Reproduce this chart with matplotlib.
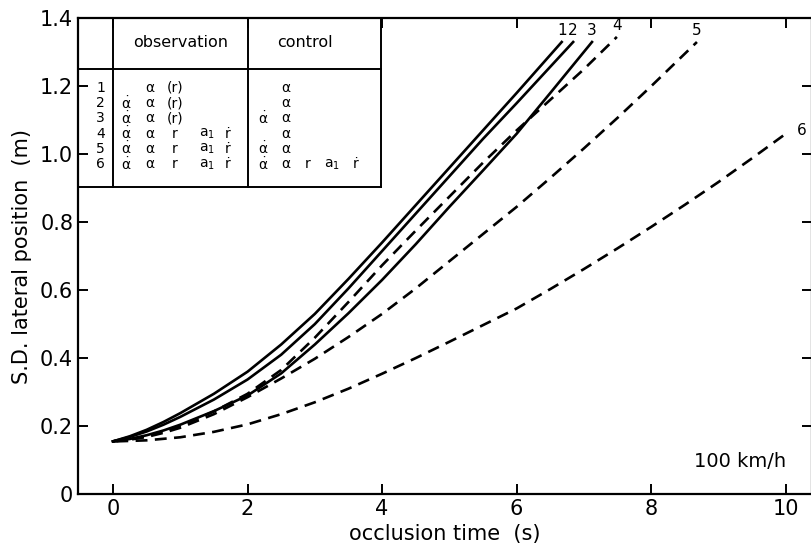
import numpy as np
import matplotlib
matplotlib.use('Agg')
import matplotlib.pyplot as plt

plt.rcParams['font.family'] = ['DejaVu Sans']
plt.rcParams['mathtext.fontset'] = 'dejavusans'

# curves: occlusion time (s) -> S.D. lateral position (m)
t1 = [0, 0.25, 0.5, 0.75, 1, 1.5, 2, 2.5, 3, 3.5, 4, 4.5, 5, 5.5, 6, 6.67]
sd1 = [0.155, 0.17, 0.189, 0.212, 0.238, 0.295, 0.36, 0.44, 0.53, 0.633, 0.74, 0.85, 0.96, 1.07, 1.18, 1.33]

t2 = [0, 0.25, 0.5, 0.75, 1, 1.5, 2, 2.5, 3, 3.5, 4, 4.5, 5, 5.5, 6, 6.84]
sd2 = [0.155, 0.168, 0.184, 0.204, 0.227, 0.278, 0.337, 0.41, 0.50, 0.605, 0.715, 0.825, 0.935, 1.045, 1.15, 1.33]

t3 = [0, 0.25, 0.5, 0.75, 1, 1.5, 2, 2.5, 3, 3.5, 4, 4.5, 5, 5.5, 6, 6.5, 7.12]
sd3 = [0.155, 0.162, 0.173, 0.187, 0.204, 0.244, 0.29, 0.355, 0.44, 0.532, 0.63, 0.735, 0.845, 0.952, 1.06, 1.18, 1.33]

t4 = [0, 0.25, 0.5, 0.75, 1, 1.5, 2, 2.5, 3, 3.5, 4, 4.5, 5, 5.5, 6, 6.5, 7, 7.49]
sd4 = [0.155, 0.161, 0.17, 0.183, 0.2, 0.243, 0.295, 0.365, 0.46, 0.565, 0.673, 0.775, 0.875, 0.975, 1.07, 1.16, 1.25, 1.345]

t5 = [0, 0.25, 0.5, 0.75, 1, 1.5, 2, 2.5, 3, 3.5, 4, 4.5, 5, 5.5, 6, 6.5, 7, 7.5, 8, 8.68]
sd5 = [0.155, 0.16, 0.168, 0.18, 0.195, 0.235, 0.285, 0.34, 0.398, 0.462, 0.53, 0.605, 0.685, 0.765, 0.845, 0.93, 1.017, 1.107, 1.2, 1.33]

t6 = [0.05, 0.5, 1, 1.5, 2, 2.5, 3, 3.5, 4, 4.5, 5, 5.5, 6, 6.5, 7, 7.5, 8, 8.5, 9, 9.5, 10.0]
sd6 = [0.155, 0.158, 0.167, 0.183, 0.205, 0.235, 0.27, 0.31, 0.354, 0.4, 0.448, 0.497, 0.546, 0.603, 0.662, 0.723, 0.786, 0.851, 0.918, 0.988, 1.06]

curve_names = ['1', '2', '3', '4', '5', '6']

# legend table contents
adot = r'$\dot{\mathrm{\alpha}}$'
al = 'α'
rdot = 'ṙ'
a1 = r'$\mathrm{a_1}$'
obs_rows = [
    ['', al, '(r)', '', ''],
    [adot, al, '(r)', '', ''],
    [adot, al, '(r)', '', ''],
    [adot, al, 'r', a1, rdot],
    [adot, al, 'r', a1, rdot],
    [adot, al, 'r', a1, rdot],
]
ctrl_rows = [
    ['', al, '', '', ''],
    ['', al, '', '', ''],
    [adot, al, '', '', ''],
    ['', al, '', '', ''],
    [adot, al, '', '', ''],
    [adot, al, 'r', a1, rdot],
]

fig = plt.figure(figsize=(8.11, 5.52), dpi=100)
ax = fig.add_axes([0.0962, 0.105, 0.905, 0.862])

solid = '-'
dash = (0, (4.5, 2.8))
styles = [solid, solid, solid, dash, dash, dash]
ts = [t1, t2, t3, t4, t5, t6]
sds = [sd1, sd2, sd3, sd4, sd5, sd6]
for i in range(6):
    ax.plot(ts[i], sds[i], color='k', lw=1.9, linestyle=styles[i],
            solid_joinstyle='round', dash_joinstyle='round')
    if i < 5:
        off = (0, 8)
        ha = 'center'
    else:
        off = (8, 2)
        ha = 'left'
    ax.annotate(curve_names[i], (ts[i][-1], sds[i][-1]), xytext=off,
                textcoords='offset points', ha=ha, va='center', fontsize=11)

ax.set_xlim(-0.52, 10.39)
ax.set_ylim(0, 1.4)
ax.set_xticks([0, 2, 4, 6, 8, 10])
ax.set_yticks([0, 0.2, 0.4, 0.6, 0.8, 1.0, 1.2, 1.4])
ax.set_yticklabels(['0', '0.2', '0.4', '0.6', '0.8', '1.0', '1.2', '1.4'])
ax.tick_params(direction='in', length=7, width=1.4, labelsize=15,
               top=True, right=True)
for s in ax.spines.values():
    s.set_linewidth(1.6)
ax.set_xlabel('occlusion time  (s)', fontsize=15, labelpad=4)
ax.set_ylabel('S.D. lateral position  (m)', fontsize=15, labelpad=6)

# table drawn inside the axes
xl = -0.52
xr = 3.98
yb = 0.904
yh = 1.252
lk = dict(color='k', lw=1.4)
ax.plot([xl, xr], [yb, yb], **lk)
ax.plot([xl, xr], [yh, yh], **lk)
ax.plot([xr, xr], [yb, 1.4], **lk)
ax.plot([0, 0], [yb, 1.4], **lk)
ax.plot([2, 2], [yb, 1.4], **lk)
ax.text(1.0, 1.33, 'observation', ha='center', va='center', fontsize=11.5)
ax.text(2.85, 1.33, 'control', ha='center', va='center', fontsize=11.5)

obs_x = [0.2, 0.55, 0.92, 1.4, 1.71]
ctrl_x = [2.23, 2.57, 2.9, 3.25, 3.6]
row_y = 1.195
for k in range(6):
    y = row_y - k * 0.045
    ax.text(-0.12, y, curve_names[k], ha='right', va='center', fontsize=10)
    for j in range(5):
        if obs_rows[k][j]:
            ax.text(obs_x[j], y, obs_rows[k][j], ha='center', va='center', fontsize=10)
        if ctrl_rows[k][j]:
            ax.text(ctrl_x[j], y, ctrl_rows[k][j], ha='center', va='center', fontsize=10)

ax.text(9.32, 0.097, '100 km/h', ha='center', va='center', fontsize=14)

fig.savefig('out.png', dpi=100)
